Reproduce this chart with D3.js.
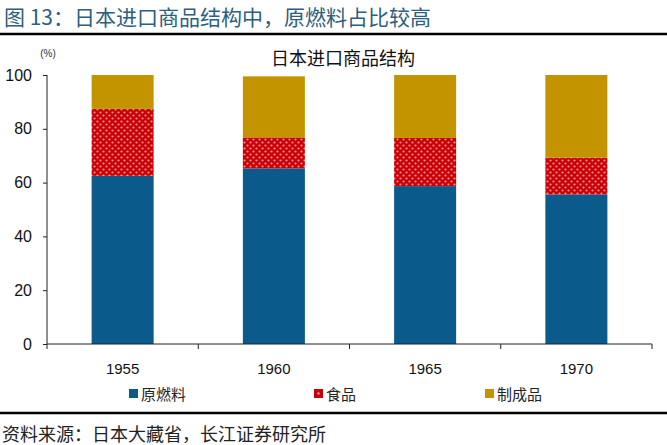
<!DOCTYPE html>
<html><head><meta charset="utf-8">
<script src="https://cdn.jsdelivr.net/npm/d3@7"></script>
<style>body{margin:0;background:#fff;}svg{display:block;font-family:"Liberation Sans",Arial,"Noto Sans CJK SC",sans-serif;}</style>
</head><body><svg id="c" width="667" height="445"></svg>
<script>
const years = ["1955","1960","1965","1970"];
const rawFuel = [62.5, 65.3, 58.7, 55.6];
const food = [24.9, 11.5, 17.9, 13.7];
const manufactured = [12.6, 22.7, 23.4, 30.7];
const seriesNames = ["原燃料","食品","制成品"];
const yTicks = [0,20,40,60,80,100];

const svg = d3.select("#c");
const cjk = '"Noto Sans CJK SC","Noto Sans CJK JP",sans-serif';

const defs = svg.append("defs");
const pat = defs.append("pattern").attr("id","dots").attr("patternUnits","userSpaceOnUse")
  .attr("width",6).attr("height",6);
pat.append("rect").attr("width",6).attr("height",6).attr("fill","#c8000a");
pat.append("circle").attr("cx",1.5).attr("cy",1.5).attr("r",1.1).attr("fill","#ff8f80");
pat.append("circle").attr("cx",4.5).attr("cy",4.5).attr("r",1.1).attr("fill","#ff8f80");

// header
svg.append("text").attr("x",4).attr("y",25).attr("font-size",21).attr("fill","#2b6080")
  .style("font-family",cjk).text("图 13：日本进口商品结构中，原燃料占比较高");
svg.append("line").attr("x1",0).attr("x2",667).attr("y1",34).attr("y2",34).attr("stroke","#000").attr("stroke-width",2.5);

const x = d3.scaleBand().domain(years).range([47,652]).paddingInner(0.59).paddingOuter(0.295);
const xb = d3.scaleBand().domain(years).range([47,652]);
const y = d3.scaleLinear().domain([0,100]).range([344,75]);

svg.append("text").attr("x",343).attr("y",65).attr("text-anchor","middle").attr("font-size",18)
  .attr("fill","#111").style("font-family",cjk).text("日本进口商品结构");
svg.append("text").attr("x",48).attr("y",57).attr("text-anchor","middle").attr("font-size",10)
  .attr("fill","#333").text("(%)");

const data = years.map((yr,i)=>({year:yr, v:[rawFuel[i], food[i], manufactured[i]]}));
const stack = d3.stack().keys([0,1,2]).value((d,k)=>d.v[k]);
const layers = stack(data);
const fills = ["#0a5a8c","url(#dots)","#c49400"];
layers.forEach((layer,k)=>{
  svg.append("g").selectAll("rect").data(layer).join("rect")
    .attr("x",d=>x(d.data.year)).attr("width",x.bandwidth())
    .attr("y",d=>y(d[1])).attr("height",d=>y(d[0])-y(d[1]))
    .attr("fill",fills[k]);
});

// y axis
const ya = svg.append("g").attr("transform","translate(47,0)")
  .call(d3.axisLeft(y).tickValues(yTicks).tickSize(4).tickPadding(11));
ya.selectAll("text").attr("font-size",16).attr("fill","#111").style("font-family","Liberation Sans, Arial, sans-serif");
ya.select(".domain").attr("stroke","#222").attr("d","M0,75V344");
ya.selectAll(".tick line").attr("stroke","#222");

// x axis
const xa = svg.append("g").attr("transform","translate(0,344)");
xa.append("line").attr("x1",47).attr("x2",652).attr("stroke","#222");
const edges = years.map(d=>xb(d)).concat([xb(years[years.length-1])+xb.bandwidth()]);
xa.selectAll(".bt").data(edges).join("line")
  .attr("x1",d=>d).attr("x2",d=>d).attr("y1",0).attr("y2",5).attr("stroke","#222");
xa.selectAll(".lbl").data(years).join("text")
  .attr("x",d=>x(d)+x.bandwidth()/2).attr("y",30).attr("text-anchor","middle")
  .attr("font-size",15).attr("fill","#111").text(d=>d);

// legend
const legX = [129, 314, 485];
const legFill = ["#0a5a8c","#c8000a","#c49400"];
seriesNames.forEach((n,i)=>{
  svg.append("rect").attr("x",legX[i]).attr("y",389).attr("width",9).attr("height",9).attr("fill",legFill[i]);
  if(i===1){
    svg.append("circle").attr("cx",legX[i]+4.5).attr("cy",393.5).attr("r",1.3).attr("fill","#ff8f80");
  }
  svg.append("text").attr("x",legX[i]+12).attr("y",400).attr("font-size",15).attr("fill","#222")
    .style("font-family",cjk).text(n);
});

svg.append("line").attr("x1",0).attr("x2",667).attr("y1",413).attr("y2",413).attr("stroke","#000").attr("stroke-width",2.5);
svg.append("text").attr("x",2).attr("y",441).attr("font-size",18).attr("fill","#222")
  .style("font-family",cjk).text("资料来源：日本大藏省，长江证券研究所");
</script></body></html>
